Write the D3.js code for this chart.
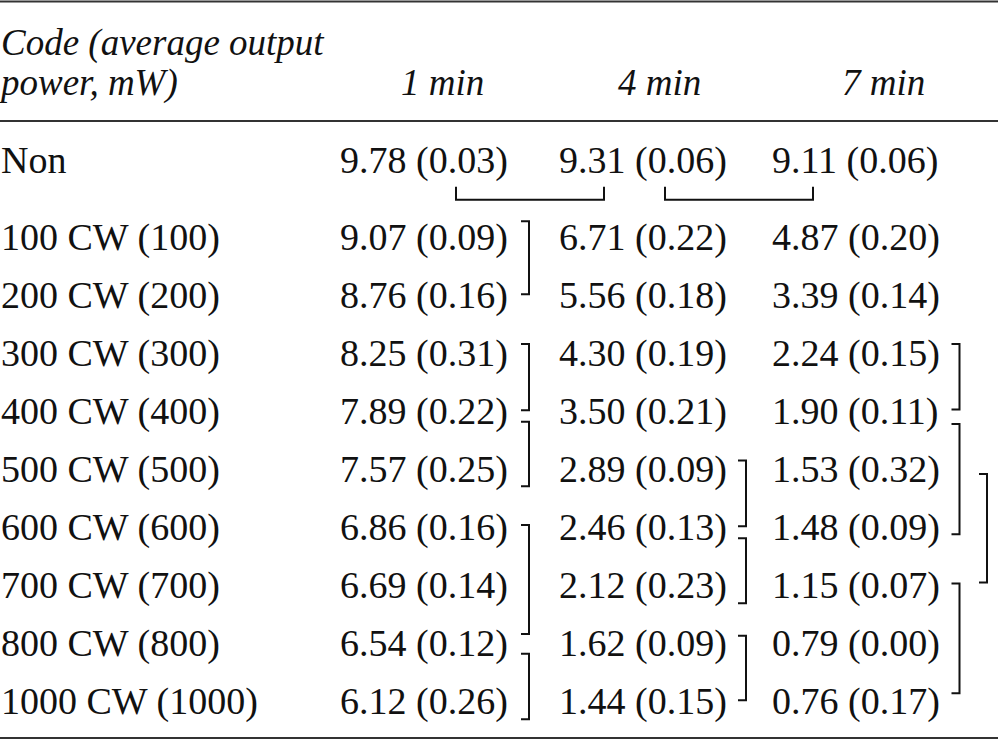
<!DOCTYPE html>
<html>
<head>
<meta charset="utf-8">
<script src="https://cdn.jsdelivr.net/npm/d3@7"></script>
<style>
  html, body { margin: 0; padding: 0; background: #fff; }
  svg { display: block; }
  text { font-family: "Liberation Serif", "Times New Roman", serif; fill: #111; }
</style>
</head>
<body>
<svg id="chart" width="998" height="740"></svg>
<script>
// ---------------- data ----------------
const headerLines = ["Code (average output", "power, mW)"];
const timeLabels = ["1 min", "4 min", "7 min"];
const codes = ["Non", "100 CW (100)", "200 CW (200)", "300 CW (300)", "400 CW (400)",
  "500 CW (500)", "600 CW (600)", "700 CW (700)", "800 CW (800)", "1000 CW (1000)"];
const mean1 = [9.78, 9.07, 8.76, 8.25, 7.89, 7.57, 6.86, 6.69, 6.54, 6.12];
const sd1   = [0.03, 0.09, 0.16, 0.31, 0.22, 0.25, 0.16, 0.14, 0.12, 0.26];
const mean4 = [9.31, 6.71, 5.56, 4.30, 3.50, 2.89, 2.46, 2.12, 1.62, 1.44];
const sd4   = [0.06, 0.22, 0.18, 0.19, 0.21, 0.09, 0.13, 0.23, 0.09, 0.15];
const mean7 = [9.11, 4.87, 3.39, 2.24, 1.90, 1.53, 1.48, 1.15, 0.79, 0.76];
const sd7   = [0.06, 0.20, 0.14, 0.15, 0.11, 0.32, 0.09, 0.07, 0.00, 0.17];
// vertical brackets: bracket lane, start row, end row (in row units)
const vBrackets = [
  [0, 0.63, 1.77], [0, 2.63, 3.77], [0, 3.97, 5.08], [0, 5.75, 7.63], [0, 7.97, 9.10],
  [1, 4.64, 5.77], [1, 5.98, 7.10], [1, 7.66, 8.77],
  [2, 2.63, 3.76], [2, 4.01, 5.91], [2, 6.76, 8.65],
  [3, 4.87, 6.74]
];
// horizontal brackets under the "Non" row: from column, to column
const hBrackets = [[0, 1], [1, 2]];

// ---------------- layout ----------------
const W = 998, H = 740;
const svg = d3.select("#chart");
const fmt = d3.format(".2f");
const columns = [[mean1, sd1], [mean4, sd4], [mean7, sd7]];

// row baseline scale (Non row has extra space below it)
const y = d3.scaleLinear().domain([0, 1, 9]).range([173.3, 249.5, 713.5]);
const colX = d3.scaleOrdinal().domain([0, 1, 2]).range([340, 559, 772]);
const headX = d3.scaleOrdinal().domain([0, 1, 2]).range([401, 618, 842]);
const laneX = d3.scaleOrdinal().domain([0, 1, 2, 3]).range([529, 746, 959.5, 987]);
const hbX1 = d3.scaleOrdinal().domain([0, 1]).range([456, 665]);
const hbX2 = d3.scaleOrdinal().domain([1, 2]).range([604, 813]);
const tick = 8;

// rules
const rules = [1.5, 121, 738];
svg.selectAll("line.rule").data(rules).join("line")
  .attr("class", "rule")
  .attr("x1", 0).attr("x2", W)
  .attr("y1", d => d).attr("y2", d => d)
  .attr("stroke", "#333").attr("stroke-width", 2);

// header
svg.selectAll("text.head").data(headerLines).join("text")
  .attr("class", "head")
  .attr("x", 1).attr("y", (d, i) => 55 + i * 40)
  .attr("font-size", 37).attr("font-style", "italic")
  .text(d => d);
svg.selectAll("text.time").data(timeLabels).join("text")
  .attr("class", "time")
  .attr("x", (d, i) => headX(i)).attr("y", 95)
  .attr("font-size", 37).attr("font-style", "italic")
  .text(d => d);

// row labels
svg.selectAll("text.code").data(codes).join("text")
  .attr("class", "code")
  .attr("x", 1).attr("y", (d, i) => y(i))
  .attr("font-size", 38)
  .text(d => d);

// values
columns.forEach(([m, s], c) => {
  svg.selectAll("text.val" + c).data(m).join("text")
    .attr("class", "val" + c)
    .attr("x", colX(c)).attr("y", (d, i) => y(i))
    .attr("font-size", 38)
    .text((d, i) => `${fmt(d)} (${fmt(s[i])})`);
});

// vertical brackets
const bg = svg.append("g").attr("fill", "none").attr("stroke", "#111").attr("stroke-width", 2);
bg.selectAll("path.vb").data(vBrackets).join("path")
  .attr("class", "vb")
  .attr("d", ([lane, a, b]) => {
    const x = laneX(lane), y1 = y(a), y2 = y(b);
    return `M${x - tick},${y1}H${x}V${y2}H${x - tick}`;
  });

// horizontal brackets
bg.selectAll("path.hb").data(hBrackets).join("path")
  .attr("class", "hb")
  .attr("d", ([a, b]) => {
    const x1 = hbX1(a), x2 = hbX2(b), yb = y(0) + 26.5, yt = yb - 13;
    return `M${x1},${yt}V${yb}H${x2}V${yt}`;
  });
</script>
</body>
</html>
